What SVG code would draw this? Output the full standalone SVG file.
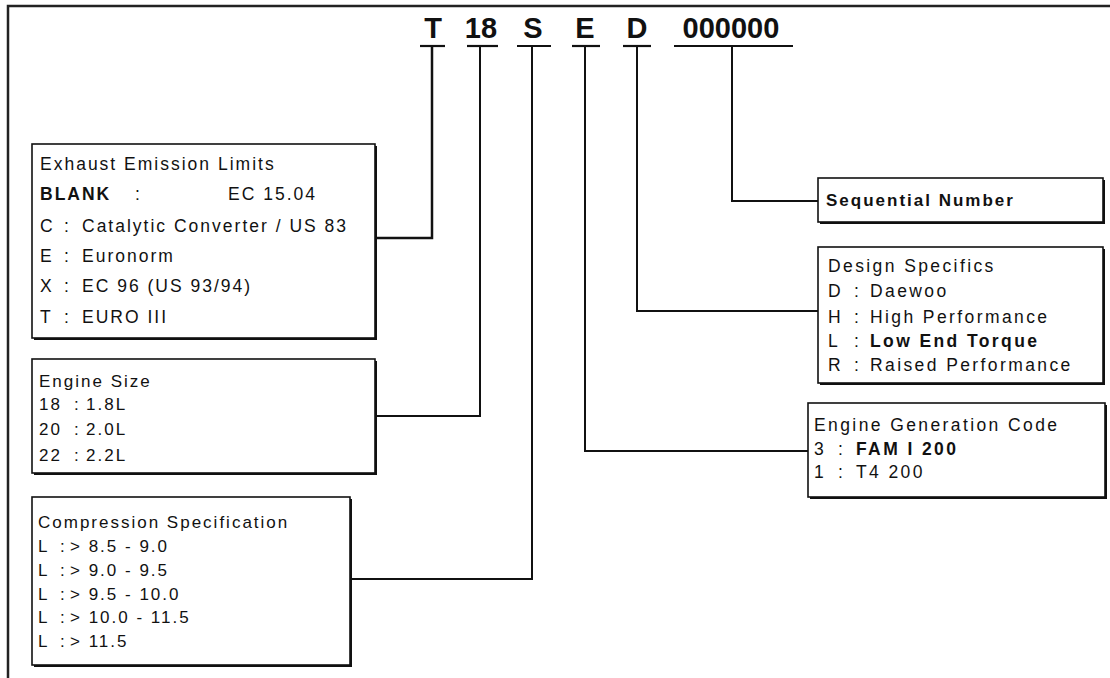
<svg xmlns="http://www.w3.org/2000/svg" width="1110" height="678" viewBox="0 0 1110 678">
<style>
.frame{fill:none;stroke:#222;stroke-width:2.5}
.box{fill:#fff;stroke:#111;stroke-width:1.6}
.sh{fill:#111}
.ln{fill:none;stroke:#111;stroke-width:2}
.code{font-family:"Liberation Sans",Arial,sans-serif;font-weight:bold;font-size:29px;fill:#111;text-anchor:middle}
.ul{stroke:#111;stroke-width:2.2}
.t{font-family:"Liberation Sans",Arial,sans-serif;font-size:17px;letter-spacing:2px;fill:#111}
.t2{font-family:"Liberation Sans",Arial,sans-serif;font-size:17.5px;letter-spacing:2px;fill:#111}
.t3{font-family:"Liberation Sans",Arial,sans-serif;font-size:17.5px;letter-spacing:2.4px;fill:#111}
.b{font-weight:bold}
</style>
<polyline class="frame" points="8,678 8,6 1110,6"/>
<g id="codes">
<text class="code" x="433" y="38">T</text>
<text class="code" x="481" y="38">18</text>
<text class="code" x="533" y="38">S</text>
<text class="code" x="585" y="38">E</text>
<text class="code" x="637" y="38">D</text>
<text class="code" x="731" y="38">000000</text>
<line class="ul" x1="420" y1="46" x2="445" y2="46"/>
<line class="ul" x1="467" y1="46" x2="498" y2="46"/>
<line class="ul" x1="517" y1="46" x2="551" y2="46"/>
<line class="ul" x1="572" y1="46" x2="600" y2="46"/>
<line class="ul" x1="623" y1="46" x2="651" y2="46"/>
<line class="ul" x1="674" y1="46" x2="793" y2="46"/>
</g>
<g id="connectors">
<polyline class="ln" points="432,46 432,238 375,238" style="stroke-width:2.5"/>
<polyline class="ln" points="480,46 480,416 375,416"/>
<polyline class="ln" points="532,46 532,579 350,579"/>
<polyline class="ln" points="585,46 585,451 808,451"/>
<polyline class="ln" points="637,46 637,311 818,311"/>
<polyline class="ln" points="732,46 732,201 818,201"/>
</g>
<g id="exhaust">
<rect class="sh" x="34" y="146" width="343" height="194"/>
<rect class="box" x="32" y="144" width="343" height="194"/>
<text class="t2" x="40" y="170">Exhaust Emission Limits</text>
<text class="t2 b" x="40" y="200">BLANK</text><text class="t2" x="135" y="200">:</text><text class="t2" x="228" y="200">EC 15.04</text>
<text class="t2" x="40" y="232">C</text><text class="t2" x="64" y="232">:</text><text class="t2" x="82" y="232">Catalytic Converter / US 83</text>
<text class="t2" x="40" y="262">E</text><text class="t2" x="64" y="262">:</text><text class="t2" x="82" y="262">Euronorm</text>
<text class="t2" x="40" y="292">X</text><text class="t2" x="64" y="292">:</text><text class="t2" x="82" y="292">EC 96 (US 93/94)</text>
<text class="t2" x="40" y="323">T</text><text class="t2" x="64" y="323">:</text><text class="t2" x="82" y="323">EURO III</text>
</g>
<g id="engine-size">
<rect class="sh" x="34" y="361" width="343" height="114"/>
<rect class="box" x="32" y="359" width="343" height="114"/>
<text class="t" x="39" y="387">Engine Size</text>
<text class="t" x="39" y="410">18</text><text class="t" x="74" y="410">:</text><text class="t" x="86" y="410">1.8L</text>
<text class="t" x="39" y="435">20</text><text class="t" x="74" y="435">:</text><text class="t" x="86" y="435">2.0L</text>
<text class="t" x="39" y="461">22</text><text class="t" x="74" y="461">:</text><text class="t" x="86" y="461">2.2L</text>
</g>
<g id="compression">
<rect class="sh" x="34" y="499" width="318" height="168"/>
<rect class="box" x="32" y="497" width="318" height="168"/>
<text class="t" x="38" y="528">Compression Specification</text>
<text class="t" x="38" y="552">L</text><text class="t" x="60" y="552">:</text><text class="t" x="70" y="552">&gt; 8.5 - 9.0</text>
<text class="t" x="38" y="576">L</text><text class="t" x="60" y="576">:</text><text class="t" x="70" y="576">&gt; 9.0 - 9.5</text>
<text class="t" x="38" y="600">L</text><text class="t" x="60" y="600">:</text><text class="t" x="70" y="600">&gt; 9.5 - 10.0</text>
<text class="t" x="38" y="623">L</text><text class="t" x="60" y="623">:</text><text class="t" x="70" y="623">&gt; 10.0 - 11.5</text>
<text class="t" x="38" y="647">L</text><text class="t" x="60" y="647">:</text><text class="t" x="70" y="647">&gt; 11.5</text>
</g>
<g id="sequential">
<rect class="sh" x="820" y="180" width="285" height="44"/>
<rect class="box" x="818" y="178" width="285" height="44"/>
<text class="t b" x="826" y="206">Sequential Number</text>
</g>
<g id="design">
<rect class="sh" x="820" y="249" width="285" height="136"/>
<rect class="box" x="818" y="247" width="285" height="136"/>
<text class="t3" x="828" y="272">Design Specifics</text>
<text class="t3" x="828" y="297">D</text><text class="t3" x="854" y="297">:</text><text class="t3" x="870" y="297">Daewoo</text>
<text class="t3" x="828" y="323">H</text><text class="t3" x="854" y="323">:</text><text class="t3" x="870" y="323">High Performance</text>
<text class="t3" x="828" y="347">L</text><text class="t3" x="854" y="347">:</text><text class="t3 b" x="870" y="347">Low End Torque</text>
<text class="t3" x="828" y="371">R</text><text class="t3" x="854" y="371">:</text><text class="t3" x="870" y="371">Raised Performance</text>
</g>
<g id="generation">
<rect class="sh" x="810" y="405" width="297" height="94"/>
<rect class="box" x="808" y="403" width="297" height="94"/>
<text class="t3" x="814" y="431">Engine Generation Code</text>
<text class="t3" x="814" y="455">3</text><text class="t3" x="838" y="455">:</text><text class="t3 b" x="856" y="455">FAM I 200</text>
<text class="t3" x="814" y="478">1</text><text class="t3" x="838" y="478">:</text><text class="t3" x="856" y="478">T4 200</text>
</g>
</svg>
